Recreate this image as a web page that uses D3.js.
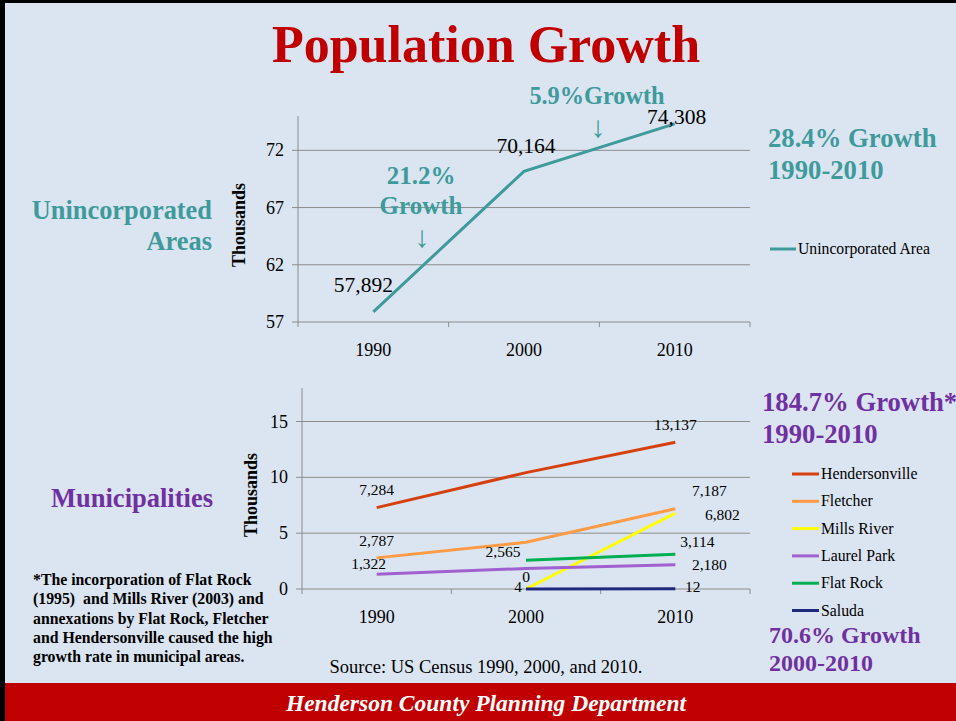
<!DOCTYPE html>
<html>
<head>
<meta charset="utf-8">
<script src="https://cdn.jsdelivr.net/npm/d3@7"></script>
<style>
  html, body { margin: 0; padding: 0; background: #dbe5f1; }
  svg { display: block; font-family: "Liberation Serif", "Times New Roman", serif; }
</style>
</head>
<body>
<svg id="chart" width="956" height="721"></svg>
<script>
"use strict";

// ---- data ----
const years = ["1990", "2000", "2010"];
const unincorporated = [57.892, 70.164, 74.308];
const unincLabels = ["57,892", "70,164", "74,308"];
const topTicks = [57, 62, 67, 72];

const towns = ["Hendersonville", "Fletcher", "Mills River", "Laurel Park", "Flat Rock", "Saluda"];
const townColors = ["#d6400f", "#ff9a45", "#ffff00", "#a060d0", "#00b050", "#1f2a7a"];
const hendersonville = [7.284, 10.420, 13.137];
const fletcher = [2.787, 4.185, 7.187];
const millsRiver = [null, 0, 6.802];
const laurelPark = [1.322, 1.835, 2.180];
const flatRock = [null, 2.565, 3.114];
const saluda = [null, 0.004, 0.012];
const bottomTicks = [0, 5, 10, 15];

const svg = d3.select("#chart");
const teal = "#3e9a9b";
const purple = "#7030a0";
const red = "#c00000";

// frame
svg.append("rect").attr("x", 0).attr("y", 0).attr("width", 956).attr("height", 721).attr("fill", "#dbe5f1");
svg.append("rect").attr("x", 0).attr("y", 683).attr("width", 956).attr("height", 38).attr("fill", red);
svg.append("rect").attr("x", 0).attr("y", 0).attr("width", 956).attr("height", 3).attr("fill", "#000");
svg.append("rect").attr("x", 0).attr("y", 0).attr("width", 5).attr("height", 721).attr("fill", "#000");

svg.append("text").attr("x", 486).attr("y", 62).attr("text-anchor", "middle")
  .attr("font-size", 52).attr("font-weight", "bold").attr("fill", red).text("Population Growth");

svg.append("text").attr("x", 486).attr("y", 711).attr("text-anchor", "middle")
  .attr("font-size", 23.5).attr("font-weight", "bold").attr("font-style", "italic")
  .attr("fill", "#fff").text("Henderson County Planning Department");

function drawFrame(x, y, ticks, yTitle) {
  const g = svg.append("g");
  const [x0, x1] = x.range();
  g.selectAll("line.grid").data(ticks).join("line")
    .attr("x1", x0 - 6).attr("x2", x1).attr("y1", d => y(d)).attr("y2", d => y(d))
    .attr("stroke", "#8c8c8c").attr("stroke-width", 1);
  g.append("line").attr("x1", x0).attr("x2", x0).attr("y1", y.range()[1]).attr("y2", y.range()[0])
    .attr("stroke", "#8c8c8c");
  const bounds = x.domain().map(d => x(d)).concat([x1]);
  g.selectAll("line.xt").data(bounds).join("line")
    .attr("x1", d => d).attr("x2", d => d).attr("y1", y.range()[0]).attr("y2", y.range()[0] + 5)
    .attr("stroke", "#8c8c8c");
  g.selectAll("text.yl").data(ticks).join("text")
    .attr("x", x0 - 14).attr("y", d => y(d) + 6).attr("text-anchor", "end")
    .attr("font-size", 18).text(d => d);
  g.selectAll("text.xl").data(x.domain()).join("text")
    .attr("x", d => x(d) + x.bandwidth() / 2).attr("y", y.range()[0] + 34).attr("text-anchor", "middle")
    .attr("font-size", 18).text(d => d);
  g.append("text").attr("transform", `translate(${yTitle[0]},${yTitle[1]}) rotate(-90)`)
    .attr("text-anchor", "middle").attr("font-size", 18).attr("font-weight", "bold").text("Thousands");
}

// ---- top chart ----
const xTop = d3.scaleBand().domain(years).range([298, 750]);
const yTop = d3.scaleLinear().domain([57, 75]).range([322, 116]);
drawFrame(xTop, yTop, topTicks, [245, 225]);
const cx = d => xTop(d) + xTop.bandwidth() / 2;

svg.append("path").datum(unincorporated)
  .attr("d", d3.line().x((d, i) => cx(years[i])).y(d => yTop(d)))
  .attr("fill", "none").attr("stroke", teal).attr("stroke-width", 3);

const topLabelPos = [[-10, -20], [2, -18], [2, 0]];
svg.selectAll("text.ul").data(unincorporated).join("text")
  .attr("x", (d, i) => cx(years[i]) + topLabelPos[i][0])
  .attr("y", (d, i) => yTop(d) + topLabelPos[i][1])
  .attr("text-anchor", "middle").attr("font-size", 21.5).text((d, i) => unincLabels[i]);

const bold = (t, x, y, size, color, anchor) =>
  svg.append("text").attr("x", x).attr("y", y).attr("font-size", size).attr("font-weight", "bold")
    .attr("fill", color).attr("text-anchor", anchor || "start").text(t);

bold("21.2%", 421, 184, 25, teal, "middle");
bold("Growth", 421, 214, 25, teal, "middle");
bold("\u2193", 422, 247, 30, teal, "middle").attr("font-weight", "normal");
bold("5.9%Growth", 597, 104, 24.3, teal, "middle");
bold("\u2193", 598, 137, 30, teal, "middle").attr("font-weight", "normal");
bold("Unincorporated", 212, 219, 26.4, teal, "end");
bold("Areas", 212, 250, 26.4, teal, "end");
bold("28.4% Growth", 768, 147, 26.7, teal);
bold("1990-2010", 768, 179, 26.7, teal);

svg.append("line").attr("x1", 770).attr("x2", 796).attr("y1", 249).attr("y2", 249)
  .attr("stroke", teal).attr("stroke-width", 3);
svg.append("text").attr("x", 798).attr("y", 254).attr("font-size", 15.7).text("Unincorporated Area");

// ---- bottom chart ----
const xBot = d3.scaleBand().domain(years).range([302, 750]);
const yBot = d3.scaleLinear().domain([0, 18]).range([589, 388]);
drawFrame(xBot, yBot, bottomTicks, [257, 495]);
const bx = d => xBot(d) + xBot.bandwidth() / 2;

const series = [hendersonville, fletcher, millsRiver, laurelPark, flatRock, saluda];
const line = d3.line().defined(d => d != null).x((d, i) => bx(years[i])).y(d => yBot(d));
svg.selectAll("path.town").data(series).join("path")
  .attr("d", d => line(d)).attr("fill", "none")
  .attr("stroke", (d, i) => townColors[i]).attr("stroke-width", 3);

// data labels: [series index, year index, text, dx, dy]
const botLabels = [
  [0, 0, "7,284", 0, -17.5], [0, 2, "13,137", 0, -17],
  [1, 0, "2,787", 0, -17], [1, 2, "7,187", 34, -17.5],
  [2, 1, "0", 0, -12], [2, 2, "6,802", 47, 2],
  [3, 0, "1,322", -8, -10], [3, 2, "2,180", 34, 0],
  [4, 1, "2,565", -23, -8.5], [4, 2, "3,114", 22, -12],
  [5, 1, "4", -8, -2], [5, 2, "12", 17.5, -2]
];
svg.selectAll("text.bl").data(botLabels).join("text")
  .attr("x", d => bx(years[d[1]]) + d[3])
  .attr("y", d => yBot(series[d[0]][d[1]]) + d[4] + 5)
  .attr("text-anchor", "middle").attr("font-size", 15.5).text(d => d[2]);

bold("Municipalities", 132, 507, 26.5, purple, "middle");
bold("184.7% Growth*", 762, 411, 26.7, purple);
bold("1990-2010", 762, 443, 26.7, purple);
bold("70.6% Growth", 769, 643, 24, purple);
bold("2000-2010", 769, 671, 24, purple);

const leg = svg.selectAll("g.leg").data(towns).join("g")
  .attr("transform", (d, i) => `translate(792,${474 + i * 27.3})`);
leg.append("line").attr("x1", 0).attr("x2", 27).attr("stroke", (d, i) => townColors[i]).attr("stroke-width", 3);
leg.append("text").attr("x", 29).attr("y", 5).attr("font-size", 15.8).text(d => d);

const note = ["*The incorporation of Flat Rock", "(1995)  and Mills River (2003) and",
  "annexations by Flat Rock, Fletcher", "and Hendersonville caused the high",
  "growth rate in municipal areas."];
svg.selectAll("text.note").data(note).join("text")
  .attr("x", 33).attr("y", (d, i) => 585 + i * 19.3).attr("font-size", 15.8)
  .attr("font-weight", "bold").style("white-space", "pre").text(d => d);

svg.append("text").attr("x", 486).attr("y", 673).attr("text-anchor", "middle")
  .attr("font-size", 18.5).text("Source: US Census 1990, 2000, and 2010.");
</script>
</body>
</html>
